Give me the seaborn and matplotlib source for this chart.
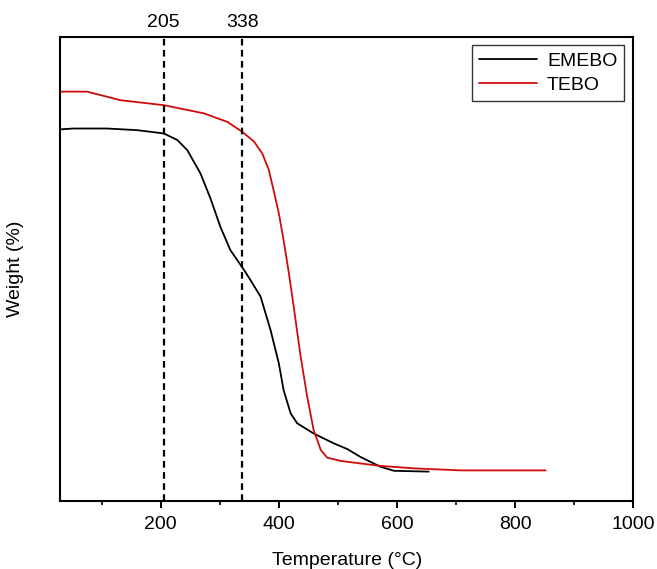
import pandas as pd
import matplotlib
matplotlib.use("Agg")
import matplotlib.pyplot as plt
import matplotlib.transforms as mtransforms
import seaborn as sns

# -----------------------------
# TGA curves
# -----------------------------
emebo_temp = [30, 52, 109, 160, 205, 228, 245, 267, 284, 301, 318, 341, 352, 369,
              386, 400, 408, 420, 431, 459, 493, 516, 538, 572, 595, 654]
emebo_weight = [90.6, 90.8, 90.8, 90.4, 89.6, 88.0, 85.5, 79.9, 73.8, 66.8, 61.1,
                56.3, 53.8, 49.8, 41.6, 33.5, 27.0, 21.3, 18.9, 16.4, 14.0, 12.6,
                10.7, 8.3, 7.3, 7.1]

tebo_temp = [30, 75, 132, 205, 273, 313, 338, 358, 372, 383, 391, 400, 408, 417,
             425, 437, 448, 459, 465, 471, 482, 505, 538, 572, 629, 708, 852]
tebo_weight = [99.8, 99.8, 97.7, 96.5, 94.5, 92.4, 90.0, 87.6, 84.7, 80.7, 75.8,
               70.1, 63.6, 55.5, 47.5, 35.1, 25.4, 17.2, 14.8, 12.4, 10.5,
               9.7, 9.1, 8.5, 7.9, 7.4, 7.4]

onset_temps = [205, 338]

df = pd.concat([
    pd.DataFrame({"Temperature": emebo_temp, "Weight": emebo_weight, "Sample": "EMEBO"}),
    pd.DataFrame({"Temperature": tebo_temp, "Weight": tebo_weight, "Sample": "TEBO"}),
])

sns.set_style("ticks")
plt.rcParams["font.family"] = ["Liberation Sans", "DejaVu Sans"]
plt.rcParams["text.color"] = "black"
plt.rcParams["axes.labelcolor"] = "black"
plt.rcParams["xtick.color"] = "black"

fig = plt.figure(figsize=(6.57, 5.69), dpi=100)
ax = fig.add_axes([0.092, 0.12, 0.8715, 0.8155])

sns.lineplot(data=df, x="Temperature", y="Weight", hue="Sample",
             palette={"EMEBO": "black", "TEBO": "#d10a0a"},
             linewidth=1.3, sort=False, ax=ax)

# onset markers
trans = mtransforms.blended_transform_factory(ax.transData, ax.transAxes)
for t in onset_temps:
    ax.axvline(t, color="black", linestyle=(0, (3, 2)), linewidth=1.6)
    ax.text(t, 1.012, str(t), transform=trans, ha="center", va="bottom", fontsize=14)

ax.set_xlim(30, 1000)
ax.set_ylim(0, 113.2)
ax.set_xticks([200, 400, 600, 800, 1000])
ax.set_xticks([100, 300, 500, 700, 900], minor=True)
ax.set_yticks([])
ax.tick_params(axis="x", which="major", direction="out", length=5, width=1.4,
               labelsize=14, pad=6)
ax.tick_params(axis="x", which="minor", direction="out", length=3, width=1.2)
for s in ax.spines.values():
    s.set_linewidth(1.5)
    s.set_color("black")

ax.set_xlabel("Temperature (°C)", fontsize=14, labelpad=14)
ax.set_ylabel("Weight (%)", fontsize=14, labelpad=26)

leg = ax.legend(loc="upper right", fontsize=14, frameon=True, fancybox=False,
                edgecolor="#333333", framealpha=1, handlelength=3.0,
                borderaxespad=0.45, labelspacing=0.35, handletextpad=0.5,
                borderpad=0.35)
leg.get_frame().set_linewidth(1.0)

plt.savefig("out.png", dpi=100)
